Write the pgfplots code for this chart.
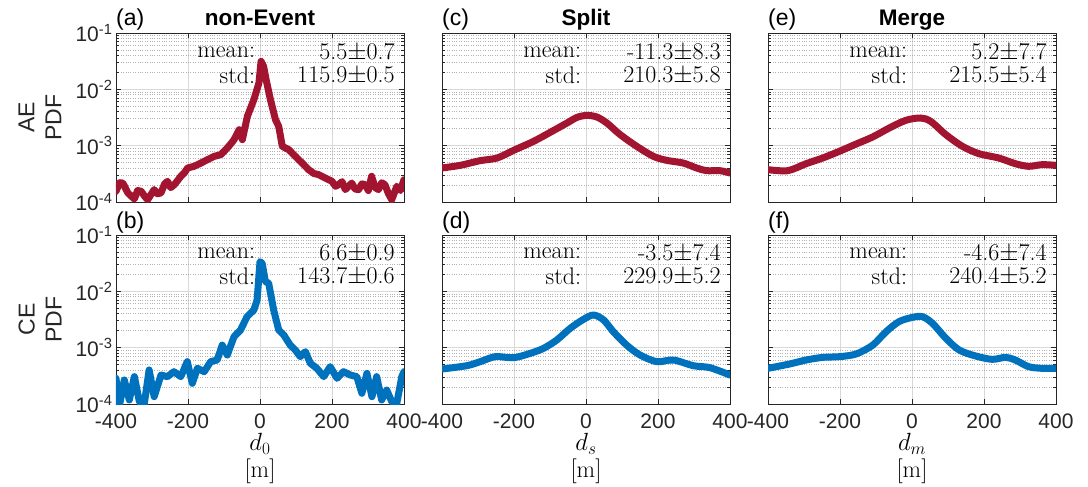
\documentclass[border=0pt]{standalone}
\usepackage{fontspec}
\setsansfont{Liberation Sans}
\usepackage{pgfplots}
\pgfplotsset{compat=1.18}

\definecolor{mred}{RGB}{162,20,47}
\definecolor{mblue}{RGB}{0,114,189}
\definecolor{axgray}{RGB}{38,38,38}

\newcommand{\tfont}{\fontsize{21}{23}\selectfont\sffamily}
\newcommand{\afont}{\fontsize{24}{26}\selectfont\rmfamily}
\newcommand{\lfont}{\fontsize{23}{27}\selectfont\sffamily}

\pgfplotsset{every axis/.append style={
    xmin=-400, xmax=400, ymin=1e-4, ymax=1e-1,
    width=288pt, height=169pt, scale only axis,
    xtick={-400,-200,0,200,400},
    ytick={1e-4,1e-3,1e-2,1e-1},
    grid=both,
    major grid style={black!15, line width=0.7pt},
    minor grid style={black!30, dotted, line width=0.7pt},
    tick align=inside, tick pos=both,
    major tick length=5pt, minor tick length=3pt,
    axis line style={axgray, line width=0.9pt},
    tick style={axgray, line width=0.8pt},
    tick label style={font=\tfont, text=axgray},
    xticklabel style={yshift=-6pt},
  }}
\tikzset{curve/.style={line width=7pt, line join=round, line cap=round}}

\begin{document}
\begin{tikzpicture}
\path (0pt,0pt) rectangle (1088pt,-487pt);

% (a) AE non-Event
\begin{semilogyaxis}[name=a, at={(116pt,-33pt)}, anchor=north west,
  xticklabels={}, yticklabels={10\textsuperscript{-4},10\textsuperscript{-3},10\textsuperscript{-2},10\textsuperscript{-1}}]
\addplot[mred, curve] coordinates {
(-400,1.55e-4) (-390,2.2e-4) (-381,2.17e-4) (-367,1.45e-4) (-349,1.13e-4) (-340,1.6e-4)
(-330,1.55e-4) (-320,1.25e-4) (-312,1.10e-4) (-294,1.66e-4) (-285,1.4e-4) (-275,1.45e-4)
(-265,2.1e-4) (-257,2.33e-4) (-248,1.8e-4) (-238,2.03e-4) (-229,2.4e-4) (-220,2.86e-4)
(-210,3.3e-4) (-201,4.02e-4) (-183,4.30e-4) (-164,4.92e-4) (-146,5.64e-4) (-127,6.47e-4)
(-109,6.92e-4) (-91,9.09e-4) (-80,1.1e-3) (-72,1.28e-3) (-58,1.92e-3) (-49,1.28e-3) (-35,3.32e-3)
(-17,6.56e-3) (-3,1.29e-2) (3,3.14e-2) (10,2.56e-2) (17,1.49e-2) (29,6.56e-3)
(43,2.90e-3) (52,2.20e-3) (62,9.73e-4) (80,8.49e-4) (98,6.47e-4) (117,4.92e-4)
(135,3.75e-4) (150,3.2e-4) (163,3.06e-4) (181,2.67e-4) (200,2.33e-4) (210,1.9e-4)
(218,2.03e-4) (228,2.3e-4) (237,1.66e-4) (246,1.9e-4) (255,2.17e-4) (264,1.7e-4)
(274,1.66e-4) (283,2.1e-4) (292,2.03e-4) (301,1.6e-4) (310,2.86e-4) (320,1.8e-4)
(329,1.66e-4) (338,2.2e-4) (347,2.03e-4) (357,1.4e-4) (366,1.10e-4) (380,1.90e-4)
(390,1.6e-4) (400,2.49e-4)
};
\node[anchor=east, font=\afont] at (rel axis cs:0.495,0.885) {mean:};
\node[anchor=east, font=\afont] at (rel axis cs:0.98,0.885) {5.5$\pm$0.7};
\node[anchor=east, font=\afont] at (rel axis cs:0.495,0.75) {std:};
\node[anchor=east, font=\afont] at (rel axis cs:0.98,0.75) {115.9$\pm$0.5};
\end{semilogyaxis}

% (c) AE Split
\begin{semilogyaxis}[name=c, at={(442pt,-33pt)}, anchor=north west,
  xticklabels={}, yticklabels={}]
\addplot[mred, curve, smooth] coordinates {
(-400,4.02e-4) (-349,4.48e-4) (-294,5.42e-4) (-247,6.04e-4) (-197,8.49e-4) (-146,1.19e-3)
(-99,1.73e-3) (-53,2.52e-3) (-25,3.18e-3) (2,3.45e-3) (30,3.23e-3) (58,2.52e-3)
(95,1.57e-3) (141,9.73e-4) (187,6.47e-4) (224,5.49e-4) (270,4.92e-4) (307,4.02e-4)
(335,3.60e-4) (372,3.60e-4) (400,3.27e-4)
};
\node[anchor=east, font=\afont] at (rel axis cs:0.495,0.885) {mean:};
\node[anchor=east, font=\afont] at (rel axis cs:0.98,0.885) {-11.3$\pm$8.3};
\node[anchor=east, font=\afont] at (rel axis cs:0.495,0.75) {std:};
\node[anchor=east, font=\afont] at (rel axis cs:0.98,0.75) {210.3$\pm$5.8};
\end{semilogyaxis}

% (e) AE Merge
\begin{semilogyaxis}[name=e, at={(768pt,-33pt)}, anchor=north west,
  xticklabels={}, yticklabels={}]
\addplot[mred, curve, smooth] coordinates {
(-400,3.75e-4) (-345,3.60e-4) (-294,4.79e-4) (-248,6.04e-4) (-202,7.93e-4) (-155,1.07e-3)
(-109,1.43e-3) (-63,2.06e-3) (-17,2.82e-3) (24,3.10e-3) (52,2.70e-3) (94,1.57e-3)
(140,9.73e-4) (186,7.21e-4) (241,6.04e-4) (287,4.79e-4) (324,4.30e-4) (361,4.60e-4)
(400,4.48e-4)
};
\node[anchor=east, font=\afont] at (rel axis cs:0.495,0.885) {mean:};
\node[anchor=east, font=\afont] at (rel axis cs:0.98,0.885) {5.2$\pm$7.7};
\node[anchor=east, font=\afont] at (rel axis cs:0.495,0.75) {std:};
\node[anchor=east, font=\afont] at (rel axis cs:0.98,0.75) {215.5$\pm$5.4};
\end{semilogyaxis}

% (b) CE non-Event
\begin{semilogyaxis}[name=b, at={(116pt,-235pt)}, anchor=north west,
  xticklabels={-400,-200,0,200,400}, yticklabels={10\textsuperscript{-4},10\textsuperscript{-3},10\textsuperscript{-2},10\textsuperscript{-1}}]
\addplot[mblue, curve] coordinates {
(-400,2.86e-4) (-391,9.0e-5) (-377,2.67e-4) (-363,1.18e-4) (-349,3.06e-4) (-335,1.10e-4)
(-322,9.5e-5) (-308,4.02e-4) (-294,1.35e-4) (-275,3.27e-4) (-257,3.06e-4) (-239,3.75e-4)
(-220,3.06e-4) (-202,5.64e-4) (-188,2.33e-4) (-174,4.30e-4) (-155,3.75e-4) (-137,5.64e-4)
(-119,6.04e-4) (-105,1.11e-3) (-91,7.41e-4) (-72,1.57e-3) (-54,2.06e-3) (-36,3.55e-3)
(-17,4.67e-3) (-8,7.01e-3) (0,3.37e-2) (6,3.14e-2) (15,1.49e-2) (24,1.40e-2)
(38,4.67e-3) (52,2.06e-3) (66,1.68e-3) (84,1.11e-3) (98,9.09e-4) (112,6.92e-4)
(126,8.49e-4) (140,5.27e-4) (158,4.30e-4) (177,3.06e-4) (195,4.60e-4) (214,2.86e-4)
(232,3.75e-4) (251,3.27e-4) (269,3.06e-4) (283,1.55e-4) (297,3.50e-4) (311,1.35e-4)
(324,3.06e-4) (338,1.18e-4) (352,1.77e-4) (366,1.10e-4) (380,1.03e-4) (394,3.06e-4)
(400,3.75e-4)
};
\node[anchor=east, font=\afont] at (rel axis cs:0.495,0.89) {mean:};
\node[anchor=east, font=\afont] at (rel axis cs:0.98,0.89) {6.6$\pm$0.9};
\node[anchor=east, font=\afont] at (rel axis cs:0.495,0.753) {std:};
\node[anchor=east, font=\afont] at (rel axis cs:0.98,0.753) {143.7$\pm$0.6};
\end{semilogyaxis}

% (d) CE Split
\begin{semilogyaxis}[name=d, at={(442pt,-235pt)}, anchor=north west,
  xticklabels={-400,-200,0,200,400}, yticklabels={}]
\addplot[mblue, curve, smooth] coordinates {
(-400,4.18e-4) (-331,4.79e-4) (-294,5.64e-4) (-252,6.92e-4) (-201,6.64e-4) (-155,7.93e-4)
(-118,9.73e-4) (-81,1.37e-3) (-44,2.20e-3) (-7,3.18e-3) (21,3.80e-3) (49,3.10e-3)
(76,1.92e-3) (113,1.11e-3) (150,7.41e-4) (197,5.64e-4) (243,6.04e-4) (298,4.79e-4)
(344,4.42e-4) (400,3.27e-4)
};
\node[anchor=east, font=\afont] at (rel axis cs:0.495,0.89) {mean:};
\node[anchor=east, font=\afont] at (rel axis cs:0.98,0.89) {-3.5$\pm$7.4};
\node[anchor=east, font=\afont] at (rel axis cs:0.495,0.753) {std:};
\node[anchor=east, font=\afont] at (rel axis cs:0.98,0.753) {229.9$\pm$5.2};
\end{semilogyaxis}

% (f) CE Merge
\begin{semilogyaxis}[name=f, at={(768pt,-235pt)}, anchor=north west,
  xticklabels={-400,-200,0,200,400}, yticklabels={}]
\addplot[mblue, curve, smooth] coordinates {
(-400,4.30e-4) (-340,5.13e-4) (-294,6.04e-4) (-248,6.73e-4) (-202,6.92e-4) (-155,7.73e-4)
(-109,1.11e-3) (-72,1.92e-3) (-36,2.90e-3) (1,3.45e-3) (29,3.55e-3) (57,2.70e-3)
(94,1.47e-3) (131,9.09e-4) (177,7.11e-4) (223,6.21e-4) (260,6.73e-4) (287,6.04e-4)
(324,4.60e-4) (361,4.30e-4) (400,4.30e-4)
};
\node[anchor=east, font=\afont] at (rel axis cs:0.495,0.89) {mean:};
\node[anchor=east, font=\afont] at (rel axis cs:0.98,0.89) {-4.6$\pm$7.4};
\node[anchor=east, font=\afont] at (rel axis cs:0.495,0.753) {std:};
\node[anchor=east, font=\afont] at (rel axis cs:0.98,0.753) {240.4$\pm$5.2};
\end{semilogyaxis}

% panel letters and titles
\foreach \p/\l in {a/(a),c/(c),e/(e),b/(b),d/(d),f/(f)}
  \node[anchor=base west, font=\lfont, inner sep=0pt] at ([yshift=7pt]\p.north west) {\l};
\node[anchor=base, font=\fontsize{22.5}{25}\selectfont\sffamily\bfseries, inner sep=0pt] at ([yshift=7pt]a.north) {non-Event};
\node[anchor=base, font=\fontsize{22.5}{25}\selectfont\sffamily\bfseries, inner sep=0pt] at ([yshift=7pt]c.north) {Split};
\node[anchor=base, font=\fontsize{22.5}{25}\selectfont\sffamily\bfseries, inner sep=0pt] at ([yshift=7pt]e.north) {Merge};

% row labels
\node[rotate=90, align=center, font=\lfont, text=axgray] at (40pt,-117.5pt) {AE\\PDF};
\node[rotate=90, align=center, font=\lfont, text=axgray] at (40pt,-319.5pt) {CE\\PDF};

% x labels
\foreach \cx/\s in {260/0,586/s,912/m} {
  \node[font=\afont, inner sep=1pt] at (\cx pt,-444pt) {$d_{\s}$};
  \node[font=\afont, inner sep=1pt] at (\cx pt,-471pt) {$[\mathrm{m}]$};
}
\end{tikzpicture}
\end{document}
